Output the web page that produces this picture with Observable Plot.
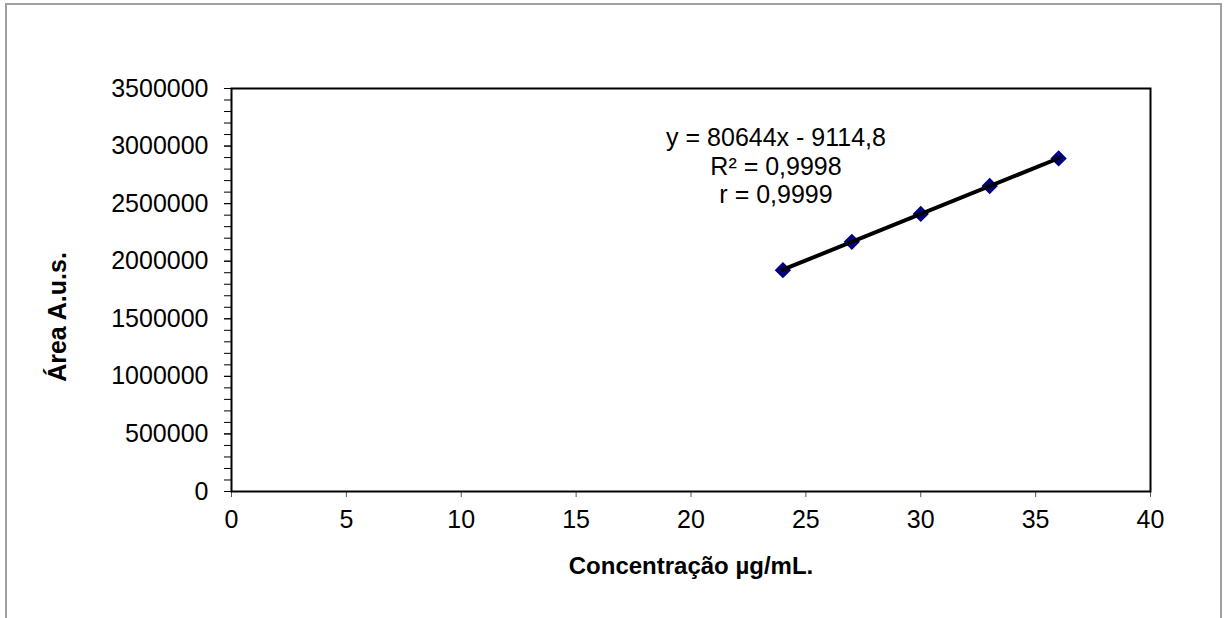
<!DOCTYPE html>
<html>
<head>
<meta charset="utf-8">
<script src="https://cdn.jsdelivr.net/npm/d3@7"></script>
<script src="https://cdn.jsdelivr.net/npm/@observablehq/plot@0.6"></script>
<style>
  body { margin: 0; background: #fff; }
  #wrap { position: relative; width: 1225px; height: 618px; overflow: hidden; }
  #edge { position: absolute; left: 5px; top: 3px; width: 1217px; height: 700px;
          border: 2px solid #a0a0a0; box-sizing: border-box; pointer-events: none; }
  #wrap svg { position: absolute; left: 0; top: 0; }
</style>
</head>
<body>
<div id="wrap"><div id="edge"></div></div>
<script>
// Calibration curve: concentration (µg/mL) vs peak area
const concentration = [24, 27, 30, 33, 36];
const area = [1922000, 2168500, 2411000, 2653500, 2893000];

// Linear fit as reported on the chart
const slope = 80644;
const intercept = -9114.8;
const fitLabels = ["y = 80644x - 9114,8", "R² = 0,9998", "r = 0,9999"];

const xTicks = [0, 5, 10, 15, 20, 25, 30, 35, 40];
const yTicks = [0, 500000, 1000000, 1500000, 2000000, 2500000, 3000000, 3500000];
const yMinorTicks = d3.range(0, 3500001, 100000);

const points = concentration.map((c, i) => ({c, a: area[i]}));
const fitLine = d3.extent(concentration).map(c => ({c, a: slope * c + intercept}));

const font = "'Liberation Sans', Arial, sans-serif";

const chart = Plot.plot({
  width: 1225,
  height: 618,
  marginLeft: 231,
  marginRight: 75,
  marginTop: 88,
  marginBottom: 127,
  style: { fontFamily: font, fontSize: "25px", color: "#000", background: "transparent" },
  x: { domain: [0, 40] },
  y: { domain: [0, 3500000] },
  marks: [
    Plot.axisY(yMinorTicks, { tickSize: 7, text: null, label: null, stroke: "#000" }),
    Plot.axisY(yTicks, { tickSize: 7, tickPadding: 16, tickFormat: d => String(d), label: null, stroke: "#000", fontSize: 25 }),
    Plot.axisX(xTicks, { tickSize: 6, tickPadding: 13, label: null, stroke: "#555", fontSize: 25 }),
    Plot.frame({ stroke: "#000", strokeWidth: 2 }),
    Plot.dot(points, { x: "c", y: "a", symbol: "diamond2", r: 6.4, fill: "#000080", stroke: "#000080" }),
    Plot.line(fitLine, { x: "c", y: "a", stroke: "#000", strokeWidth: 4 }),
    Plot.text([fitLabels.join("\n")], {
      x: [23.7], y: [2831000], text: d => d, fontSize: 25, lineHeight: 1.13,
      textAnchor: "middle", lineAnchor: "middle", fill: "#000"
    }),
    Plot.text(["Concentração µg/mL."], {
      frameAnchor: "bottom", dy: 75, lineAnchor: "middle", textAnchor: "middle",
      fontWeight: "bold", fontSize: 24, fill: "#000"
    }),
    Plot.text(["Área A.u.s."], {
      frameAnchor: "left", dx: -174, dy: 27, rotate: -90, lineAnchor: "middle", textAnchor: "middle",
      fontWeight: "bold", fontSize: 25, fill: "#000"
    })
  ]
});

document.getElementById("wrap").appendChild(chart);
</script>
</body>
</html>
